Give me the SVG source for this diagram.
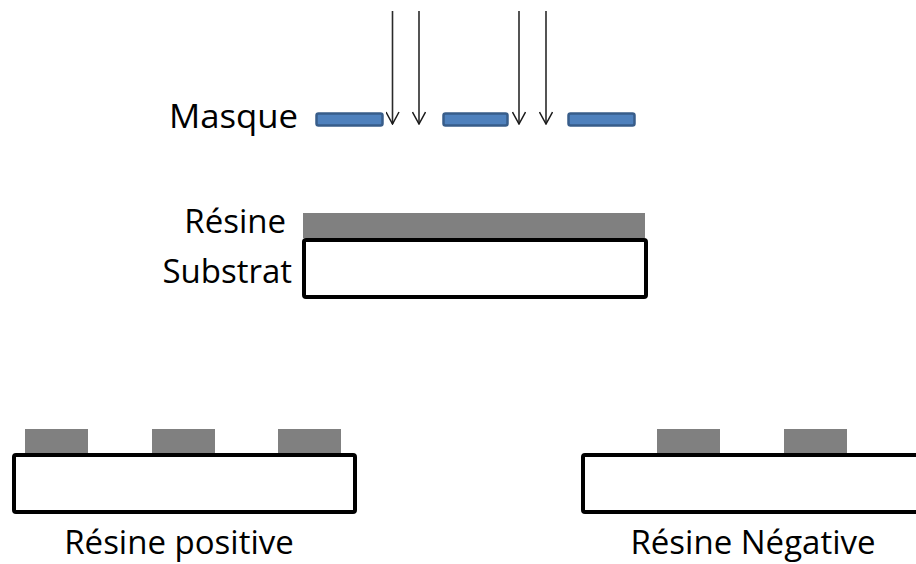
<svg xmlns="http://www.w3.org/2000/svg" width="916" height="564" viewBox="0 0 916 564">
<defs>
<marker id="arr" viewBox="0 0 14 14" refX="13" refY="7" markerWidth="14" markerHeight="14" markerUnits="userSpaceOnUse" orient="auto">
<path d="M1,0.5 L13,7 L1,13.5" fill="none" stroke="#1a1a1a" stroke-width="1.5"/>
</marker>
</defs>
<style>
.lbl{font-family:"Open Sans","Liberation Sans",sans-serif;font-size:33px;fill:#000}
.mask{fill:#4f81bd;stroke:#385d8a;stroke-width:2.5}
.res{fill:#808080}
.sub{fill:#fff;stroke:#000;stroke-width:4}
.ray{stroke:#2a2a2a;stroke-width:1.6;fill:none}
</style>
<rect width="916" height="564" fill="#fff"/>
<g id="masque">
<text class="lbl" x="169" y="128" textLength="129" lengthAdjust="spacingAndGlyphs">Masque</text>
<rect class="mask" x="316.5" y="113.5" width="66" height="12" rx="2"/>
<rect class="mask" x="443.5" y="113.5" width="64" height="12" rx="2"/>
<rect class="mask" x="568.5" y="113.5" width="66" height="12" rx="2"/>
</g>
<g id="rays">
<line class="ray" x1="392.5" y1="11" x2="392.5" y2="124" marker-end="url(#arr)"/>
<line class="ray" x1="419" y1="11" x2="419" y2="124" marker-end="url(#arr)"/>
<line class="ray" x1="519" y1="11" x2="519" y2="124" marker-end="url(#arr)"/>
<line class="ray" x1="546" y1="11" x2="546" y2="124" marker-end="url(#arr)"/>
</g>
<g id="empilement">
<text class="lbl" x="286" y="233" text-anchor="end">Résine</text>
<text class="lbl" x="292" y="283" text-anchor="end">Substrat</text>
<rect class="res" x="303" y="213" width="342" height="25"/>
<rect class="sub" x="304" y="240" width="342" height="57" rx="2"/>
</g>
<g id="positive">
<rect class="res" x="25" y="429" width="63" height="26"/>
<rect class="res" x="152" y="429" width="63" height="26"/>
<rect class="res" x="278" y="429" width="63" height="26"/>
<rect class="sub" x="14" y="455" width="341" height="57" rx="2"/>
<text class="lbl" x="179" y="554" text-anchor="middle">Résine positive</text>
</g>
<g id="negative">
<rect class="res" x="657" y="429" width="63" height="26"/>
<rect class="res" x="784" y="429" width="63" height="26"/>
<rect class="sub" x="583" y="455" width="345" height="57" rx="2"/>
<text class="lbl" x="753" y="554" text-anchor="middle">Résine Négative</text>
</g>
</svg>
